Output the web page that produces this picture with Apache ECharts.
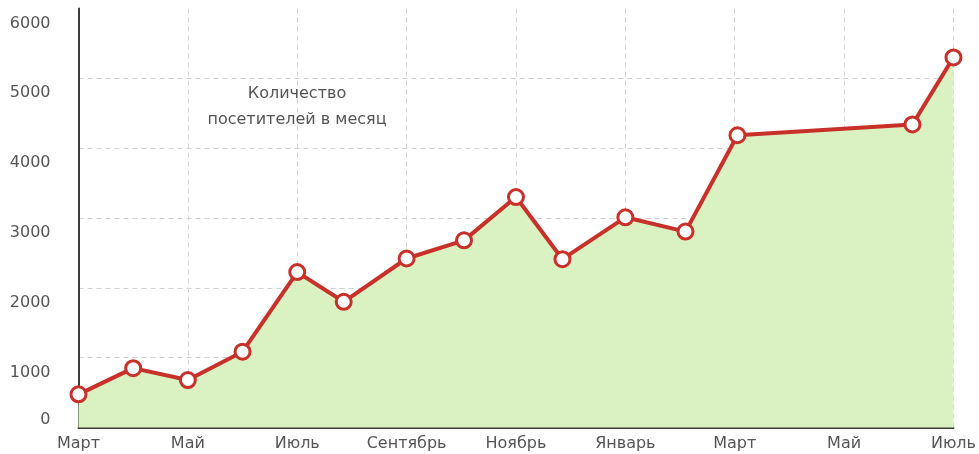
<!DOCTYPE html>
<html>
<head>
<meta charset="utf-8">
<script src="https://cdn.jsdelivr.net/npm/echarts@6/dist/echarts.min.js"></script>
<style>
html, body { margin: 0; padding: 0; background: #fff; }
#chart { width: 979px; height: 454px; }
</style>
</head>
<body>
<div id="chart"></div>
<script>
// позиция точки в месяцах от первого марта
var monthPos = [0, 1, 2, 3, 4, 4.85, 6, 7.05, 8, 8.85, 10, 11.1, 12.05, 15.25, 16];
var visitors = [475, 850, 680, 1085, 2225, 1800, 2420, 2680, 3300, 2410, 3010, 2805, 4185, 4340, 5300];
var monthLabels = ['Март', 'Май', 'Июль', 'Сентябрь', 'Ноябрь', 'Январь', 'Март', 'Май', 'Июль'];
var yTicks = [0, 1000, 2000, 3000, 4000, 5000, 6000];

var points = [];
for (var i = 0; i < monthPos.length; i++) {
  points.push([monthPos[i], visitors[i]]);
}

var font = 'DejaVu Sans';
var myChart = echarts.init(document.getElementById('chart'));

myChart.setOption({
  animation: false,
  title: {
    text: 'Количество\nпосетителей в месяц',
    left: 292,
    top: 76,
    textAlign: 'center',
    textStyle: {
      fontFamily: font,
      fontSize: 16,
      fontWeight: 'normal',
      color: '#555',
      lineHeight: 26
    }
  },
  grid: { left: 78.5, right: 23.5, top: 8.5, bottom: 26.5 },
  xAxis: {
    type: 'value',
    min: 0,
    max: 16,
    interval: 2,
    axisLine: { lineStyle: { color: '#3c3c3c', width: 2 } },
    axisTick: { show: false },
    axisLabel: {
      margin: 8,
      fontFamily: font,
      fontSize: 16,
      color: '#555',
      formatter: function (v) { return monthLabels[Math.round(v / 2)] || ''; }
    },
    splitLine: {
      show: true,
      showMinLine: false,
      lineStyle: { color: '#d6d6d6', type: [5, 4], width: 1 }
    }
  },
  yAxis: [{
    type: 'value',
    min: yTicks[0],
    max: yTicks[yTicks.length - 1],
    interval: 1000,
    axisLine: { show: true, lineStyle: { color: '#3c3c3c', width: 2 } },
    axisTick: { show: false },
    axisLabel: {
      margin: 28,
      fontFamily: font,
      fontSize: 16,
      color: '#555',
      verticalAlign: 'top',
      padding: [7, 0, 0, 0],
      formatter: function (v) { return v === 0 ? '' : String(v); }
    },
    splitLine: {
      show: true,
      showMinLine: false,
      showMaxLine: false,
      lineStyle: { color: '#d0d0d0', type: [5, 4], width: 1 }
    }
  }, {
    // отдельная ось только для подписи "0" над линией
    type: 'value',
    position: 'left',
    min: yTicks[0],
    max: yTicks[yTicks.length - 1],
    interval: 1000,
    axisLine: { show: false },
    axisTick: { show: false },
    splitLine: { show: false },
    axisLabel: {
      margin: 28,
      fontFamily: font,
      fontSize: 16,
      color: '#555',
      verticalAlign: 'bottom',
      formatter: function (v) { return v === 0 ? '0' : ''; }
    }
  }],
  series: [{
    type: 'line',
    data: points,
    symbol: 'circle',
    symbolSize: 15,
    z: 5,
    itemStyle: { color: '#fff', borderColor: '#c8302a', borderWidth: 3 },
    lineStyle: { color: '#c8302a', width: 4 },
    areaStyle: { color: '#daf2c1', opacity: 1 }
  }]
});
</script>
</body>
</html>
